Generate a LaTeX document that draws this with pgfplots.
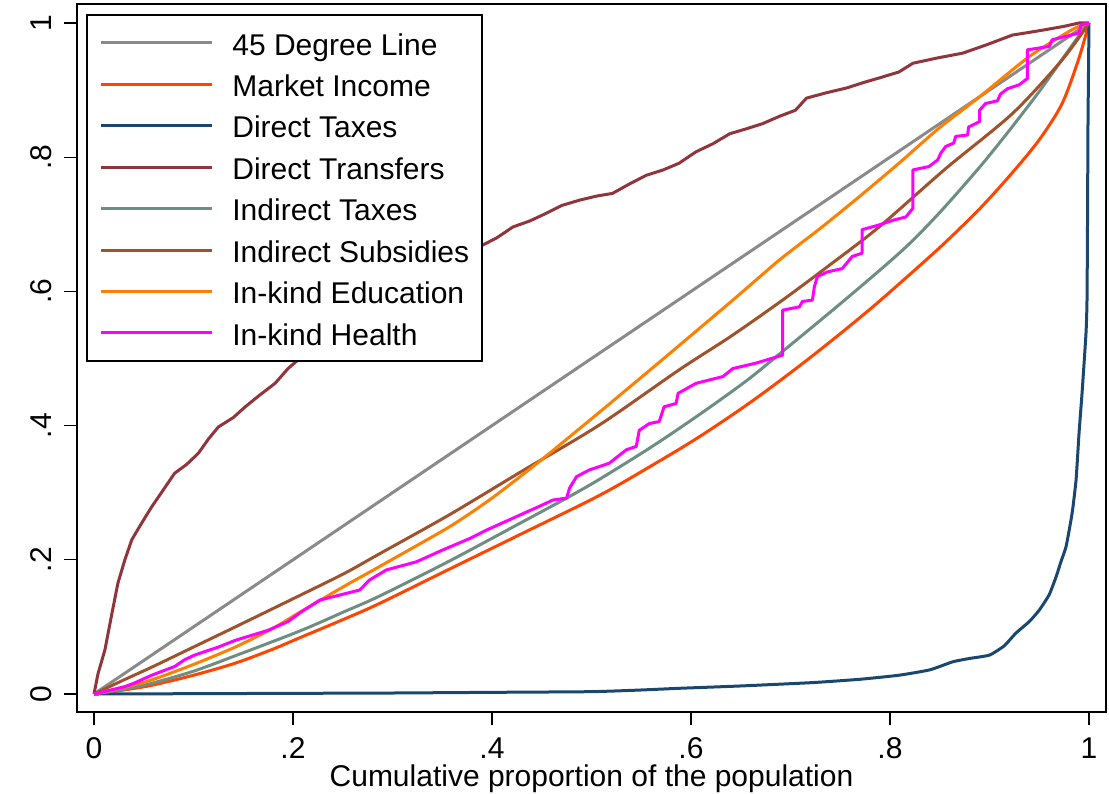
\documentclass[border=0pt]{standalone}
\usepackage{fontspec}
\setmainfont{Liberation Sans}
\usepackage{pgfplots}
\pgfplotsset{compat=1.18}
\definecolor{c45}{RGB}{138,138,138}
\definecolor{cmi}{RGB}{255,69,0}
\definecolor{cdt}{RGB}{26,71,111}
\definecolor{ctr}{RGB}{144,53,59}
\definecolor{cit}{RGB}{110,142,132}
\definecolor{cis}{RGB}{160,82,45}
\definecolor{ced}{RGB}{255,127,0}
\definecolor{che}{RGB}{255,0,255}
\begin{document}
\begin{tikzpicture}
\begin{axis}[
  scale only axis, width=514.5pt, height=354pt,
  xmin=-0.01709, xmax=1.01709, ymin=-0.0268, ymax=1.0283,
  axis line style={line width=1pt},
  tick pos=left, tick align=outside, major tick length=6.5pt,
  tick style={line width=0.6pt, black},
  xtick={0,0.2,0.4,0.6,0.8,1}, xticklabels={0,.2,.4,.6,.8,1},
  ytick={0,0.2,0.4,0.6,0.8,1}, yticklabels={0,.2,.4,.6,.8,1},
  tick label style={font=\fontsize{15}{18}\selectfont, inner sep=0pt},
  xticklabel style={anchor=base, yshift=-16.65pt},
  yticklabel style={xshift=-6pt, rotate=90, anchor=base},
  xlabel={Cumulative proportion of the population},
  xlabel style={at={(axis description cs:0.5,0)}, anchor=base, yshift=-37.25pt, font=\fontsize{15}{18}\selectfont, inner sep=0pt},
  legend cell align=left,
  legend style={at={(0,1)}, anchor=north west, xshift=4.5pt, yshift=-5.15pt,
    draw=black, line width=0.8pt, fill=white, inner xsep=6.5pt, inner ysep=4.35pt,
    row sep=1.56pt, column sep=9.5pt, font=\fontsize{15}{18}\selectfont,
    nodes={inner sep=0pt, text height=15.65pt, text depth=3.5pt}},
  legend image code/.code={\draw[#1] (0pt,0pt) -- (55.3pt,0pt);},
  every axis plot/.append style={line width=1.5pt, no markers, line join=round},
]
\addplot[c45] coordinates {(0,0) (1,1)};
\addlegendentry{45 Degree Line}
\addplot[cmi, smooth, tension=0.5] coordinates {
(0,0) (0.03,0.006) (0.058,0.013) (0.1,0.028) (0.142,0.046) (0.18,0.067) (0.207,0.084)
(0.252,0.112) (0.287,0.135) (0.357,0.186) (0.43,0.239) (0.508,0.296) (0.56,0.340)
(0.608,0.383) (0.66,0.435) (0.709,0.489) (0.75,0.537) (0.789,0.585) (0.849,0.664)
(0.89,0.723) (0.923,0.777) (0.95,0.826) (0.973,0.880) (0.99,0.948) (1,1)};
\addlegendentry{Market Income}
\addplot[cdt, smooth, tension=0.3] coordinates {
(0,0) (0.1,0.0005) (0.2,0.001) (0.3,0.0015) (0.4,0.0025) (0.5,0.0035) (0.55,0.006)
(0.588,0.0085) (0.65,0.012) (0.722,0.017) (0.77,0.022) (0.809,0.028) (0.84,0.036)
(0.863,0.048) (0.88,0.053) (0.90,0.058) (0.915,0.072) (0.926,0.090) (0.94,0.108)
(0.95,0.125) (0.96,0.148) (0.967,0.175) (0.972,0.198) (0.977,0.220) (0.983,0.269)
(0.987,0.319) (0.99,0.389) (0.993,0.448) (0.997,0.538) (0.998,0.587) (0.9985,0.7)
(0.999,0.85) (1,1)};
\addlegendentry{Direct Taxes}
\addplot[ctr] coordinates {
(0,0) (0.004,0.03) (0.011,0.066) (0.018,0.12) (0.024,0.165) (0.031,0.200) (0.038,0.230)
(0.048,0.255) (0.058,0.279) (0.07,0.305) (0.081,0.329) (0.093,0.342) (0.105,0.359)
(0.115,0.380) (0.125,0.398) (0.14,0.412) (0.152,0.428) (0.167,0.446) (0.182,0.463)
(0.195,0.485) (0.209,0.503) (0.25,0.55) (0.3,0.597) (0.35,0.636) (0.388,0.667)
(0.405,0.680) (0.421,0.696) (0.438,0.705) (0.454,0.716) (0.47,0.728) (0.488,0.736)
(0.505,0.742) (0.521,0.746) (0.538,0.760) (0.555,0.773) (0.572,0.781) (0.588,0.791)
(0.605,0.808) (0.622,0.820) (0.639,0.835) (0.655,0.842) (0.672,0.850) (0.689,0.861)
(0.705,0.870) (0.716,0.888) (0.736,0.896) (0.756,0.903) (0.775,0.912) (0.789,0.918)
(0.809,0.927) (0.823,0.940) (0.848,0.948) (0.873,0.955) (0.898,0.968) (0.923,0.982)
(0.94,0.986) (0.956,0.990) (0.975,0.995) (0.99,1.0) (1,1)};
\addlegendentry{Direct Transfers}
\addplot[cit, smooth, tension=0.5] coordinates {
(0,0) (0.03,0.007) (0.058,0.016) (0.1,0.034) (0.142,0.057) (0.207,0.094) (0.252,0.123)
(0.287,0.146) (0.357,0.198) (0.43,0.256) (0.475,0.292) (0.508,0.320) (0.56,0.368)
(0.608,0.416) (0.655,0.466) (0.69,0.508) (0.756,0.589) (0.813,0.662) (0.849,0.716)
(0.89,0.785) (0.92,0.840) (0.95,0.898) (0.975,0.950) (0.99,0.981) (1,1)};
\addlegendentry{Indirect Taxes}
\addplot[cis, smooth, tension=0.5] coordinates {
(0,0) (0.03,0.021) (0.058,0.040) (0.1,0.070) (0.142,0.100) (0.207,0.147) (0.252,0.180)
(0.287,0.209) (0.357,0.267) (0.43,0.332) (0.508,0.401) (0.588,0.483) (0.64,0.533)
(0.692,0.587) (0.74,0.64) (0.789,0.696) (0.856,0.783) (0.923,0.865) (0.973,0.945) (1,1)};
\addlegendentry{Indirect Subsidies}
\addplot[ced, smooth, tension=0.4] coordinates {
(0,0) (0.03,0.010) (0.058,0.021) (0.1,0.044) (0.142,0.070) (0.18,0.098) (0.207,0.122)
(0.252,0.161) (0.287,0.19) (0.357,0.249) (0.40,0.292) (0.448,0.347) (0.508,0.42)
(0.575,0.503) (0.642,0.587) (0.689,0.647) (0.73,0.694) (0.769,0.741) (0.809,0.791)
(0.849,0.843) (0.890,0.890) (0.940,0.950) (0.983,0.99) (1,1)};
\addlegendentry{In-kind Education}
\addplot[che] coordinates {
(0,0) (0.031,0.011) (0.040,0.016) (0.058,0.028) (0.081,0.041) (0.091,0.051) (0.101,0.058)
(0.125,0.070) (0.142,0.080) (0.175,0.095) (0.195,0.108) (0.208,0.122) (0.227,0.140)
(0.267,0.155) (0.277,0.170) (0.294,0.185) (0.324,0.197) (0.351,0.215) (0.378,0.232)
(0.394,0.244) (0.424,0.264) (0.451,0.282) (0.461,0.289) (0.475,0.292) (0.478,0.307)
(0.485,0.324) (0.498,0.334) (0.518,0.344) (0.535,0.364) (0.545,0.369) (0.548,0.393)
(0.558,0.403) (0.568,0.406) (0.573,0.428) (0.585,0.433) (0.587,0.448) (0.605,0.463)
(0.632,0.473) (0.642,0.485) (0.665,0.493) (0.692,0.505) (0.692,0.572) (0.709,0.577)
(0.712,0.585) (0.722,0.587) (0.724,0.607) (0.727,0.622) (0.737,0.629) (0.752,0.634)
(0.762,0.652) (0.772,0.657) (0.772,0.692) (0.789,0.699) (0.803,0.706) (0.816,0.711)
(0.823,0.724) (0.823,0.781) (0.839,0.786) (0.848,0.796) (0.851,0.806) (0.856,0.816)
(0.864,0.821) (0.866,0.831) (0.878,0.833) (0.879,0.845) (0.890,0.853) (0.890,0.870)
(0.896,0.880) (0.908,0.884) (0.911,0.894) (0.918,0.902) (0.930,0.908) (0.936,0.915)
(0.938,0.917) (0.938,0.960) (0.960,0.965) (0.963,0.975) (0.990,0.985) (0.992,0.997) (1,1)};
\addlegendentry{In-kind Health}
\end{axis}
\pgfresetboundingbox
\useasboundingbox ([shift={(-38.5pt,-40.5pt)}]current axis.south west) rectangle ([shift={(1.5pt,2pt)}]current axis.north east);
\end{tikzpicture}
\end{document}
